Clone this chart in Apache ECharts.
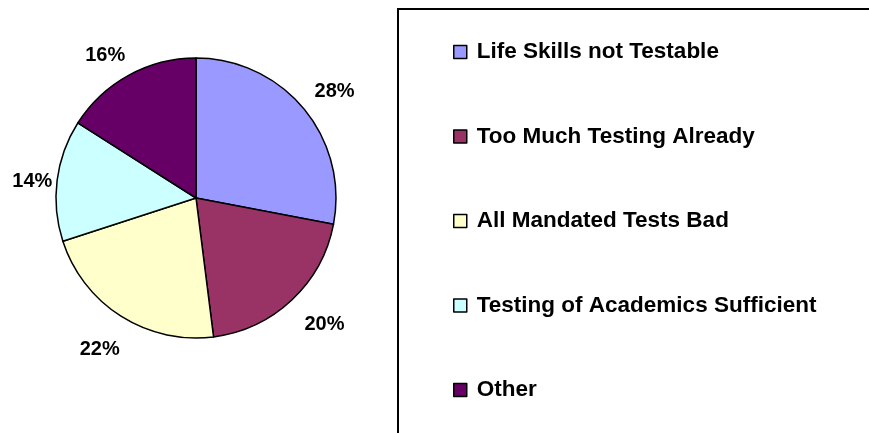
<!DOCTYPE html>
<html>
<head>
<meta charset="utf-8">
<script src="https://cdn.jsdelivr.net/npm/echarts@6/dist/echarts.min.js"></script>
<style>html,body{margin:0;padding:0;background:#fff}#c{width:869px;height:433px}</style>
</head>
<body>
<div id="c"></div>
<script>
var categories = ['Life Skills not Testable', 'Too Much Testing Already', 'All Mandated Tests Bad', 'Testing of Academics Sufficient', 'Other'];
var values = [28, 20, 22, 14, 16];
var colors = ['#9999FF', '#993366', '#FFFFCC', '#CCFFFF', '#660066'];
// small text nudges for the percentage labels (style only)
var labelNudge = [[3, 6], [8, -2], [-2, 3], [11, 6], [-6, 12]];

var chart = echarts.init(document.getElementById('c'), null, {renderer: 'canvas'});
var font = '"Liberation Sans", Arial, sans-serif';
var pieData = categories.map(function (c, i) {
  return {name: c, value: values[i], itemStyle: {color: colors[i]}};
});
var labelData = categories.map(function (c, i) {
  return {name: c, value: values[i], label: {offset: labelNudge[i]}};
});
chart.setOption({
  animation: false,
  backgroundColor: '#ffffff',
  graphic: [{
    type: 'rect',
    shape: {x: 398, y: 9, width: 600, height: 600},
    style: {fill: 'none', stroke: '#000', lineWidth: 2},
    silent: true
  }],
  legend: {
    orient: 'vertical',
    left: 453,
    top: 40,
    padding: 0,
    itemWidth: 13,
    itemHeight: 13,
    itemGap: 60.5,
    icon: 'rect',
    itemStyle: {borderColor: '#000', borderWidth: 1.5},
    data: categories,
    textStyle: {fontFamily: font, fontWeight: 'bold', fontSize: 22.5, color: '#000', lineHeight: 24, padding: [0, 0, 0, 5]}
  },
  series: [{
    type: 'pie',
    center: [196, 198],
    radius: [0, 140],
    startAngle: 90,
    clockwise: true,
    label: {show: false},
    labelLine: {show: false},
    itemStyle: {borderColor: '#000', borderWidth: 1.5},
    emphasis: {disabled: true},
    data: pieData
  }, {
    type: 'pie',
    center: [196, 198],
    radius: [0, 346],
    startAngle: 90,
    clockwise: true,
    silent: true,
    legendHoverLink: false,
    itemStyle: {color: 'rgba(0,0,0,0)', borderWidth: 0},
    label: {
      show: true,
      position: 'inside',
      formatter: '{c}%',
      fontFamily: font,
      fontWeight: 'bold',
      fontSize: 20,
      color: '#000'
    },
    labelLine: {show: false},
    emphasis: {disabled: true},
    data: labelData,
    z: 3
  }]
});
</script>
</body>
</html>
